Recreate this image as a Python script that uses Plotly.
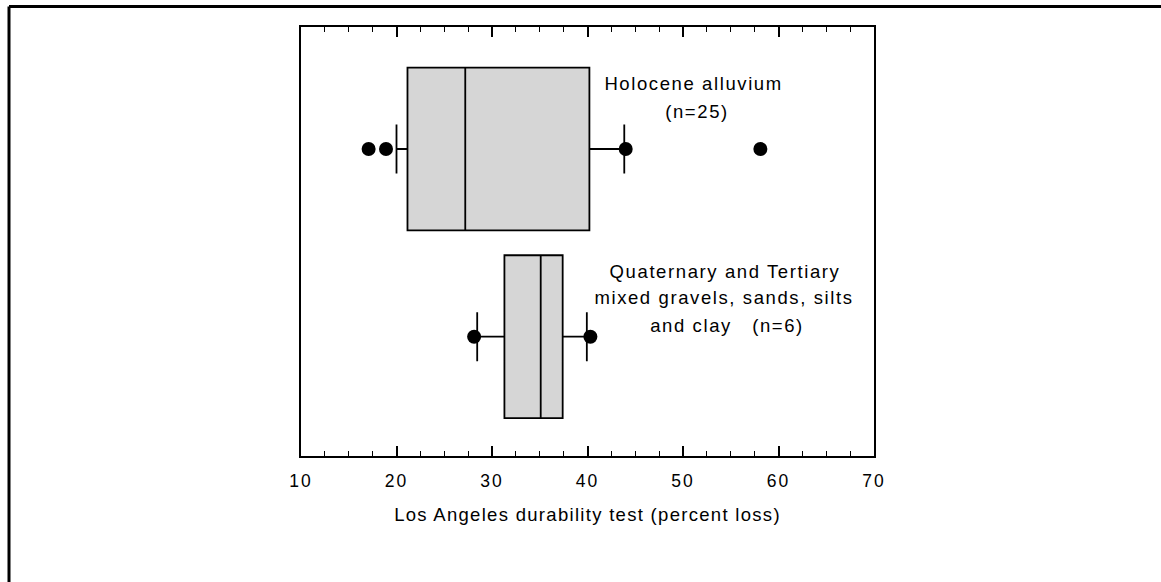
import plotly.graph_objects as go

# ---- data ----
groups = ["Holocene alluvium", "Quaternary and Tertiary"]
positions = [2, 1]
q1 = [21.15, 31.3]
median = [27.2, 35.1]
q3 = [40.2, 37.4]
lowerfence = [20.0, 28.45]
upperfence = [43.85, 39.93]
points_top = [17.08, 18.9, 44.0, 58.1]
points_bottom = [28.13, 40.3]

tick_vals = [10, 20, 30, 40, 50, 60, 70]
tick_text = ["10", "20", "30", "40", "50", "60", "70"]

W, H = 1161, 582
L, R, T, B = 301, 287, 27, 126
plot_w = W - L - R
plot_h = H - T - B
x_unit = plot_w / 60.0
y_unit = 187.7
y_lo = 1 - (H - B - 336.7) / y_unit
y_hi = y_lo + plot_h / y_unit

def px2y(py):
    return y_lo + (H - B - py) / y_unit

def px2x(px):
    return 10 + (px - L) / x_unit

fig = go.Figure()

for i in range(2):
    fig.add_trace(go.Box(
        y=[positions[i]], q1=[q1[i]], median=[median[i]], q3=[q3[i]],
        lowerfence=[lowerfence[i]], upperfence=[upperfence[i]],
        orientation="h", boxpoints=False, width=0.868,
        whiskerwidth=0.3,
        fillcolor="#d6d6d6",
        line=dict(color="black", width=1.8),
        showlegend=False, hoverinfo="skip",
    ))

fig.add_trace(go.Scatter(
    x=points_top, y=[positions[0]] * len(points_top), mode="markers",
    marker=dict(color="black", size=14), showlegend=False))
fig.add_trace(go.Scatter(
    x=points_bottom, y=[positions[1]] * len(points_bottom), mode="markers",
    marker=dict(color="black", size=14), showlegend=False))

font = "Liberation Sans, Arial, sans-serif"

fig.update_xaxes(
    range=[10, 70], tickmode="array", tickvals=tick_vals, ticktext=tick_text,
    ticks="inside", ticklen=10, tickwidth=1.5, tickcolor="black",
    minor=dict(dtick=2.5, ticks="inside", ticklen=5, tickwidth=1.2, tickcolor="black"),
    showline=True, linecolor="black", linewidth=2, mirror="ticks",
    showgrid=False, zeroline=False,
    tickfont=dict(family=font, size=17.5, color="black"),
    ticklabelstandoff=8,
    title=dict(text="Los Angeles durability test (percent loss)",
               font=dict(family=font, size=18.5, color="black"), standoff=18),
)
fig.update_yaxes(
    range=[y_lo, y_hi], showline=True, linecolor="black", linewidth=2, mirror=True,
    showticklabels=False, ticks="", showgrid=False, zeroline=False,
)

ann = [
    ("Holocene alluvium", 693, 83),
    ("(n=25)", 697, 111),
    ("Quaternary and Tertiary", 725, 271.7),
    ("mixed gravels, sands, silts", 724, 297),
    ("and clay   (n=6)", 727, 325),
]
for text, px, py in ann:
    fig.add_annotation(x=px2x(px), y=px2y(py), text=text, showarrow=False,
                       xanchor="center", yanchor="middle",
                       font=dict(family=font, size=18.5, color="black"))

# outer frame (top and left edges)
fx = (9 - L) / plot_w
fy_top = (H - B - 6.5) / plot_h
fy_bot = (H - B - H) / plot_h
fx_right = (W - L) / plot_w
fig.add_shape(type="line", xref="paper", yref="paper", x0=fx, x1=fx_right,
              y0=fy_top, y1=fy_top, line=dict(color="black", width=3))
fig.add_shape(type="line", xref="paper", yref="paper", x0=fx, x1=fx,
              y0=fy_top, y1=fy_bot, line=dict(color="black", width=3))

fig.update_layout(
    width=W, height=H,
    margin=dict(l=L, r=R, t=T, b=B),
    paper_bgcolor="white", plot_bgcolor="white",
    font=dict(family=font, color="black"),
)

post = (
    "document.body.style.margin='0';"
    "var st=document.createElement('style');"
    "st.textContent='.annotation-text{letter-spacing:1.6px}"
    ".xtitle{letter-spacing:1.3px}.xtick text{letter-spacing:2px}';"
    "document.head.appendChild(st);"
)
fig.write_html("out.html", config={"displayModeBar": False}, post_script=post)
